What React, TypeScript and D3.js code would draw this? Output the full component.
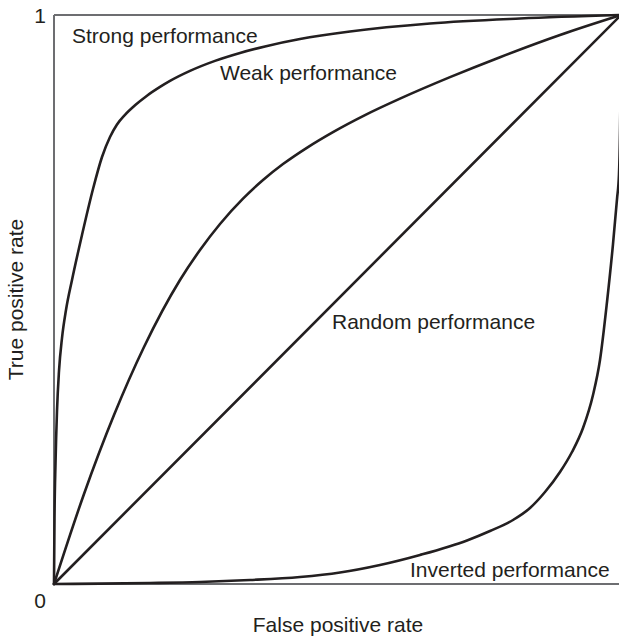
import React from "react";
import * as d3 from "d3";

// Curve points: [false positive rate, true positive rate]
const strongFpr = [0, 0.00088, 0.00265, 0.00529, 0.00882, 0.01411, 0.02116, 0.03175, 0.04938, 0.06878, 0.08466, 0.09877, 0.11111, 0.12522, 0.14286, 0.16402, 0.18695, 0.20459, 0.23986, 0.28395, 0.32804, 0.37213, 0.43386, 0.52205, 0.66314, 0.82187, 1];
const strongTpr = [0, 0.1151, 0.2118, 0.304, 0.3743, 0.4323, 0.4815, 0.5343, 0.6134, 0.6942, 0.7504, 0.7856, 0.8077, 0.8246, 0.8413, 0.8582, 0.8736, 0.8842, 0.9018, 0.9194, 0.9334, 0.9448, 0.9578, 0.971, 0.9851, 0.9938, 1];

const weakFpr = [0, 0.05291, 0.10582, 0.15873, 0.22222, 0.2575, 0.29277, 0.33333, 0.36861, 0.40388, 0.44797, 0.49206, 0.5485, 0.61023, 0.69841, 0.7866, 0.89242, 1];
const weakTpr = [0, 0.1582, 0.297, 0.4165, 0.5343, 0.587, 0.6327, 0.6772, 0.71, 0.738, 0.7679, 0.7942, 0.8241, 0.853, 0.8908, 0.9259, 0.9649, 1];

const randomFpr = [0, 1];
const randomTpr = [0, 1];

const invertedFpr = [0, 0.08113, 0.16931, 0.2575, 0.34568, 0.43386, 0.50441, 0.57496, 0.6455, 0.7284, 0.76896, 0.80952, 0.83951, 0.86596, 0.89242, 0.91358, 0.93298, 0.95062, 0.96296, 0.97531, 0.98589, 0.99295, 0.99647, 0.99912, 1];
const invertedTpr = [0, 0.0007, 0.0018, 0.0035, 0.007, 0.0123, 0.0202, 0.0334, 0.051, 0.0765, 0.0931, 0.1125, 0.1336, 0.1617, 0.1968, 0.232, 0.2742, 0.3322, 0.3937, 0.4956, 0.5975, 0.6766, 0.7206, 0.8647, 1];

const curveLabels = ["Strong performance", "Weak performance", "Random performance", "Inverted performance"];
const yTickLabels = ["0", "1"];
const xTitle = "False positive rate";
const yTitle = "True positive rate";

const W = 619;
const H = 639;
const left = 54;
const right = 621;
const top = 15;
const bottom = 584;

export default function App() {
  const x = d3.scaleLinear().domain([0, 1]).range([left, right]);
  const y = d3.scaleLinear().domain([0, 1]).range([bottom, top]);

  const series = [
    { fpr: strongFpr, tpr: strongTpr },
    { fpr: weakFpr, tpr: weakTpr },
    { fpr: randomFpr, tpr: randomTpr },
    { fpr: invertedFpr, tpr: invertedTpr },
  ];

  const line = d3
    .line<[number, number]>()
    .x((d) => x(d[0]))
    .y((d) => y(d[1]))
    .curve(d3.curveMonotoneX);

  const font = "'Liberation Sans', Arial, Helvetica, sans-serif";
  const textColor = "#231f20";
  const fs = 21;

  const labelPos = [
    { x: 72, y: 43 },
    { x: 220, y: 80 },
    { x: 332, y: 329 },
    { x: 410, y: 577 },
  ];

  return (
    <svg
      width={W}
      height={H}
      style={{ position: "absolute", left: 0, top: 0, background: "#fff" }}
      fontFamily={font}
    >
      <rect x={0} y={0} width={W} height={H} fill="#fff" />
      <line x1={left} x2={left} y1={top} y2={bottom} stroke="#6d6e71" strokeWidth={2} />
      <line x1={left} x2={right} y1={top} y2={top} stroke="#6d6e71" strokeWidth={2} />
      <line x1={left} x2={right} y1={bottom} y2={bottom} stroke="#6d6e71" strokeWidth={2} />

      {series.map((s, i) => (
        <path
          key={i}
          d={line(s.fpr.map((f, j) => [f, s.tpr[j]] as [number, number])) || ""}
          fill="none"
          stroke={textColor}
          strokeWidth={2.6}
          strokeLinejoin="round"
          strokeLinecap="round"
        />
      ))}

      {curveLabels.map((t, i) => (
        <text key={t} x={labelPos[i].x} y={labelPos[i].y} fontSize={fs} fill={textColor}>
          {t}
        </text>
      ))}

      <text x={40} y={608} fontSize={fs} fill={textColor} textAnchor="middle">
        {yTickLabels[0]}
      </text>
      <text x={40} y={23} fontSize={fs} fill={textColor} textAnchor="middle">
        {yTickLabels[1]}
      </text>

      <text x={(left + 618) / 2 + 2} y={632} fontSize={fs} fill={textColor} textAnchor="middle">
        {xTitle}
      </text>
      <text
        transform={`translate(23, ${(top + bottom) / 2}) rotate(-90)`}
        fontSize={fs}
        fill={textColor}
        textAnchor="middle"
      >
        {yTitle}
      </text>
    </svg>
  );
}
